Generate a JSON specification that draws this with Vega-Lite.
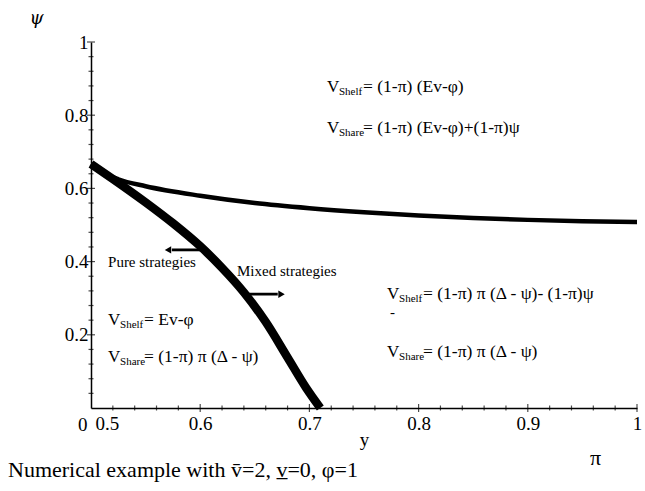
{
  "$schema": "https://vega.github.io/schema/vega-lite/v6.json",
  "width": 546,
  "height": 366,
  "autosize": "none",
  "padding": {"left": 91, "top": 42, "right": 8, "bottom": 83},
  "background": "white",
  "config": {"view": {"stroke": null}, "font": "Liberation Serif"},
  "datasets": {
    "curves": [
      {"s": "thin", "x": 0.5, "y": 0.667},
      {"s": "thin", "x": 0.51, "y": 0.645},
      {"s": "thin", "x": 0.525, "y": 0.625},
      {"s": "thin", "x": 0.55, "y": 0.606},
      {"s": "thin", "x": 0.6, "y": 0.58},
      {"s": "thin", "x": 0.65, "y": 0.56},
      {"s": "thin", "x": 0.7, "y": 0.546},
      {"s": "thin", "x": 0.75, "y": 0.535},
      {"s": "thin", "x": 0.8, "y": 0.526},
      {"s": "thin", "x": 0.85, "y": 0.519},
      {"s": "thin", "x": 0.9, "y": 0.514},
      {"s": "thin", "x": 0.95, "y": 0.51},
      {"s": "thin", "x": 1.0, "y": 0.508},
      {"s": "thick", "x": 0.5, "y": 0.667},
      {"s": "thick", "x": 0.52, "y": 0.626},
      {"s": "thick", "x": 0.55, "y": 0.562},
      {"s": "thick", "x": 0.575, "y": 0.505},
      {"s": "thick", "x": 0.6, "y": 0.442},
      {"s": "thick", "x": 0.62, "y": 0.383},
      {"s": "thick", "x": 0.64, "y": 0.316},
      {"s": "thick", "x": 0.66, "y": 0.235},
      {"s": "thick", "x": 0.68, "y": 0.138},
      {"s": "thick", "x": 0.697, "y": 0.055},
      {"s": "thick", "x": 0.71, "y": 0.0}
    ],
    "xticks": [
      {"x": 0.6, "major": true}, {"x": 0.7, "major": true}, {"x": 0.8, "major": true}, {"x": 0.9, "major": true}, {"x": 1.0, "major": true},
      {"x": 0.52, "major": false}, {"x": 0.54, "major": false}, {"x": 0.56, "major": false}, {"x": 0.58, "major": false},
      {"x": 0.62, "major": false}, {"x": 0.64, "major": false}, {"x": 0.66, "major": false}, {"x": 0.68, "major": false},
      {"x": 0.72, "major": false}, {"x": 0.74, "major": false}, {"x": 0.76, "major": false}, {"x": 0.78, "major": false},
      {"x": 0.82, "major": false}, {"x": 0.84, "major": false}, {"x": 0.86, "major": false}, {"x": 0.88, "major": false},
      {"x": 0.92, "major": false}, {"x": 0.94, "major": false}, {"x": 0.96, "major": false}, {"x": 0.98, "major": false}
    ],
    "yticks": [
      {"y": 0.2, "major": true}, {"y": 0.4, "major": true}, {"y": 0.6, "major": true}, {"y": 0.8, "major": true}, {"y": 1.0, "major": true},
      {"y": 0.04, "major": false}, {"y": 0.08, "major": false}, {"y": 0.12, "major": false}, {"y": 0.16, "major": false},
      {"y": 0.24, "major": false}, {"y": 0.28, "major": false}, {"y": 0.32, "major": false}, {"y": 0.36, "major": false},
      {"y": 0.44, "major": false}, {"y": 0.48, "major": false}, {"y": 0.52, "major": false}, {"y": 0.56, "major": false},
      {"y": 0.64, "major": false}, {"y": 0.68, "major": false}, {"y": 0.72, "major": false}, {"y": 0.76, "major": false},
      {"y": 0.84, "major": false}, {"y": 0.88, "major": false}, {"y": 0.92, "major": false}, {"y": 0.96, "major": false}
    ],
    "formulas": [
      {"x": 0.7161, "y": 0.877, "sub": "Shelf", "rest": "= (1-π) (Ev-φ)"},
      {"x": 0.7161, "y": 0.765, "sub": "Share", "rest": "= (1-π) (Ev-φ)+(1-π)ψ"},
      {"x": 0.5156, "y": 0.24, "sub": "Shelf", "rest": "= Ev-φ"},
      {"x": 0.5156, "y": 0.139, "sub": "Share", "rest": "= (1-π) π (Δ - ψ)"},
      {"x": 0.7711, "y": 0.311, "sub": "Shelf", "rest": "= (1-π) π (Δ - ψ)- (1-π)ψ"},
      {"x": 0.7711, "y": 0.153, "sub": "Share", "rest": "= (1-π) π (Δ - ψ)"}
    ],
    "notes": [
      {"x": 0.5156, "y": 0.399, "t": "Pure strategies"},
      {"x": 0.6337, "y": 0.374, "t": "Mixed strategies"},
      {"x": 0.7738, "y": 0.262, "t": "-"}
    ],
    "arrowLines": [
      {"a": "left", "x": 0.5998, "y": 0.432},
      {"a": "left", "x": 0.574, "y": 0.432},
      {"a": "right", "x": 0.641, "y": 0.311},
      {"a": "right", "x": 0.671, "y": 0.311}
    ],
    "arrowHeads": [
      {"a": "left", "x": 0.5705, "y": 0.432},
      {"a": "right", "x": 0.6745, "y": 0.311}
    ],
    "outside": [
      {"x": 0.4881, "y": -0.046, "t": "0", "k": "zero"},
      {"x": 0.957, "y": -0.137, "t": "π", "k": "pi"},
      {"x": 0.424, "y": -0.169, "t": "Numerical example with v̄=2, v̲=0, φ=1", "k": "cap"}
    ]
  },
  "layer": [
    {
      "data": {"name": "curves"},
      "transform": [{"filter": "datum.s == 'thin'"}],
      "mark": {"type": "line", "color": "black", "strokeWidth": 4.5, "interpolate": "monotone"},
      "encoding": {
        "x": {
          "field": "x", "type": "quantitative",
          "scale": {"domain": [0.5, 1], "nice": false, "zero": false},
          "axis": {
            "values": [0.5, 0.6, 0.7, 0.8, 0.9, 1],
            "labelExpr": "format(datum.value, '~g')",
            "tickSize": 0, "grid": false,
            "domainColor": "black", "domainWidth": 1.5,
            "labelFont": "Liberation Serif", "labelFontSize": 19, "labelColor": "black",
            "labelPadding": 6, "labelFlush": false,
            "labelAlign": {"condition": {"test": "datum.value == 0.5", "value": "left"}, "value": "center"},
            "labelOffset": {"condition": {"test": "datum.value == 0.5", "value": 4}, "value": 0},
            "title": "y", "titleFont": "Liberation Serif", "titleFontSize": 19, "titleFontWeight": "normal",
            "titleColor": "black", "titlePadding": -3
          }
        },
        "y": {
          "field": "y", "type": "quantitative",
          "scale": {"domain": [0, 1], "nice": false, "zero": false},
          "axis": {
            "values": [0.2, 0.4, 0.6, 0.8, 1],
            "labelExpr": "format(datum.value, '~g')",
            "tickSize": 0, "grid": false,
            "domainColor": "black", "domainWidth": 1.5,
            "labelFont": "Liberation Serif", "labelFontSize": 19, "labelColor": "black",
            "labelPadding": 3, "labelFlush": false,
            "title": "ψ", "titleFont": "DejaVu Serif", "titleFontSize": 18, "titleFontStyle": "italic",
            "titleFontWeight": "normal", "titleColor": "black", "titleAngle": 0,
            "titleAlign": "center", "titleBaseline": "middle",
            "titleX": -55, "titleY": -24
          }
        }
      }
    },
    {
      "data": {"name": "curves"},
      "transform": [{"filter": "datum.s == 'thick'"}],
      "mark": {"type": "line", "color": "black", "strokeWidth": 8.5, "interpolate": "monotone"},
      "encoding": {
        "x": {"field": "x", "type": "quantitative"},
        "y": {"field": "y", "type": "quantitative"}
      }
    },
    {
      "data": {"name": "xticks"},
      "mark": {"type": "tick", "orient": "vertical", "color": "black", "thickness": 1.2},
      "encoding": {
        "x": {"field": "x", "type": "quantitative"},
        "y": {"datum": 0, "type": "quantitative"},
        "size": {"condition": {"test": "datum.major", "value": 8}, "value": 5}
      }
    },
    {
      "data": {"name": "yticks"},
      "mark": {"type": "tick", "orient": "horizontal", "color": "black", "thickness": 1.2},
      "encoding": {
        "y": {"field": "y", "type": "quantitative"},
        "x": {"datum": 0.5, "type": "quantitative"},
        "size": {"condition": {"test": "datum.major", "value": 8}, "value": 5}
      }
    },
    {
      "data": {"name": "arrowLines"},
      "mark": {"type": "line", "color": "black", "strokeWidth": 2.8},
      "encoding": {
        "x": {"field": "x", "type": "quantitative"},
        "y": {"field": "y", "type": "quantitative"},
        "detail": {"field": "a"}
      }
    },
    {
      "data": {"name": "arrowHeads"},
      "mark": {"type": "point", "filled": true, "color": "black", "opacity": 1, "size": 55},
      "encoding": {
        "x": {"field": "x", "type": "quantitative"},
        "y": {"field": "y", "type": "quantitative"},
        "shape": {"condition": {"test": "datum.a == 'left'", "value": "triangle-left"}, "value": "triangle-right"}
      }
    },
    {
      "data": {"name": "formulas"},
      "mark": {"type": "text", "text": "V", "align": "left", "baseline": "middle", "font": "Liberation Serif", "fontSize": 17, "color": "black"},
      "encoding": {
        "x": {"field": "x", "type": "quantitative"},
        "y": {"field": "y", "type": "quantitative"}
      }
    },
    {
      "data": {"name": "formulas"},
      "mark": {"type": "text", "align": "left", "baseline": "middle", "font": "Liberation Serif", "fontSize": 11, "color": "black", "dx": 12, "dy": 5},
      "encoding": {
        "x": {"field": "x", "type": "quantitative"},
        "y": {"field": "y", "type": "quantitative"},
        "text": {"field": "sub"}
      }
    },
    {
      "data": {"name": "formulas"},
      "mark": {"type": "text", "align": "left", "baseline": "middle", "font": "Liberation Serif", "fontSize": 17.5, "color": "black", "dx": 36},
      "encoding": {
        "x": {"field": "x", "type": "quantitative"},
        "y": {"field": "y", "type": "quantitative"},
        "text": {"field": "rest"}
      }
    },
    {
      "data": {"name": "notes"},
      "mark": {"type": "text", "align": "left", "baseline": "middle", "font": "Liberation Serif", "fontSize": 15, "color": "black"},
      "encoding": {
        "x": {"field": "x", "type": "quantitative"},
        "y": {"field": "y", "type": "quantitative"},
        "text": {"field": "t"}
      }
    },
    {
      "data": {"name": "outside"},
      "mark": {"type": "text", "align": "left", "baseline": "middle", "font": "Liberation Serif", "color": "black"},
      "encoding": {
        "x": {"field": "x", "type": "quantitative"},
        "y": {"field": "y", "type": "quantitative"},
        "text": {"field": "t"},
        "size": {"condition": {"test": "datum.k == 'zero'", "value": 19}, "value": 22}
      }
    }
  ]
}
